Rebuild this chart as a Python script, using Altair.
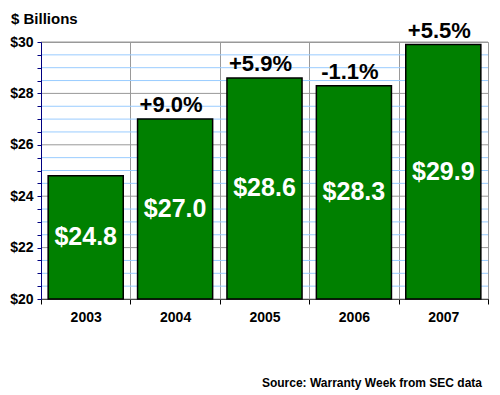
import altair as alt
import pandas as pd

years = ["2003", "2004", "2005", "2006", "2007"]
values = [24.8, 27.0, 28.6, 28.3, 29.9]
changes = ["", "+9.0%", "+5.9%", "-1.1%", "+5.5%"]
y_ticks = [20 + 0.5 * i for i in range(21)]
baseline_value = 20
title_text = "$ Billions"
source_text = "Source: Warranty Week from SEC data"

FONT = "Liberation Sans"
NAVY = "#000080"
GRID = "#999999"
MINOR = "#99CCFF"

df = pd.DataFrame({
    "year": years,
    "value": values,
    "change": changes,
    "label": ["$" + f"{v:.1f}" for v in values],
})
grid_df = pd.DataFrame({"tick": y_ticks})
grid_df["major"] = (grid_df["tick"] % 2 == 0)

yscale = alt.Scale(domain=[20, 30], nice=False, zero=False)

xenc = alt.X("year:N", sort=years,
             scale=alt.Scale(paddingInner=0, paddingOuter=0),
             axis=alt.Axis(title=None, tickBand="extent", grid=True, gridColor=GRID,
                           domainColor="black", tickColor="black", tickSize=5,
                           labelFont=FONT, labelFontSize=14, labelFontWeight="bold",
                           labelColor="black", labelPadding=6, labelAngle=0))

yaxis = alt.Axis(values=y_ticks, title=None, orient="left", grid=False, zindex=1,
                 labelExpr="datum.value % 2 === 0 ? '$' + datum.value : ''",
                 domainColor=NAVY, tickColor=NAVY, tickSize=4, domainWidth=1,
                 labelFont=FONT, labelFontSize=14, labelFontWeight="bold",
                 labelColor="black", labelPadding=4, labelOverlap=False)

minor_grid = alt.Chart(grid_df).transform_filter("!datum.major").mark_rule(
    color=MINOR, strokeWidth=1).encode(y=alt.Y("tick:Q", scale=yscale, axis=yaxis))
major_grid = alt.Chart(grid_df).transform_filter("datum.major").mark_rule(
    color=GRID, strokeWidth=1).encode(y=alt.Y("tick:Q", scale=yscale, axis=yaxis))

base = alt.Chart(df).encode(x=xenc)

bars = base.mark_bar(color="#008000", stroke="black", strokeWidth=1.5,
                     width=alt.RelativeBandSize(0.84)).encode(
    y=alt.Y("value:Q", scale=yscale, axis=yaxis),
    y2=alt.datum(baseline_value),
)

value_labels = base.transform_calculate(mid="(datum.value + 20) / 2").mark_text(
    font=FONT, fontSize=25, fontWeight="bold", color="white", baseline="middle"
).encode(
    y=alt.Y("mid:Q", scale=yscale, axis=yaxis),
    text="label:N",
)

change_labels = base.mark_text(
    font=FONT, fontSize=22, fontWeight="bold", color="black",
    baseline="alphabetic", dy=-7, dx=-4
).encode(
    y=alt.Y("value:Q", scale=yscale, axis=yaxis),
    text="change:N",
)

title_layer = alt.Chart(pd.DataFrame({"t": [title_text]})).mark_text(
    font=FONT, fontSize=15, fontWeight="bold", color="black",
    align="left", baseline="middle"
).encode(x=alt.value(-30), y=alt.value(-23), text="t:N")

source_layer = alt.Chart(pd.DataFrame({"t": [source_text]})).mark_text(
    font=FONT, fontSize=12, fontWeight="bold", color="black",
    align="right", baseline="middle"
).encode(x=alt.value(441), y=alt.value(341), text="t:N")

chart = alt.layer(minor_grid, major_grid, bars, value_labels, change_labels,
                  title_layer, source_layer).properties(
    width=447, height=257, autosize="none",
    padding={"left": 33, "top": 34, "right": 4, "bottom": 92},
    background="white",
).configure_view(stroke=GRID, strokeWidth=1)

chart.save("out.html", embed_options={"renderer": "svg", "actions": False})
